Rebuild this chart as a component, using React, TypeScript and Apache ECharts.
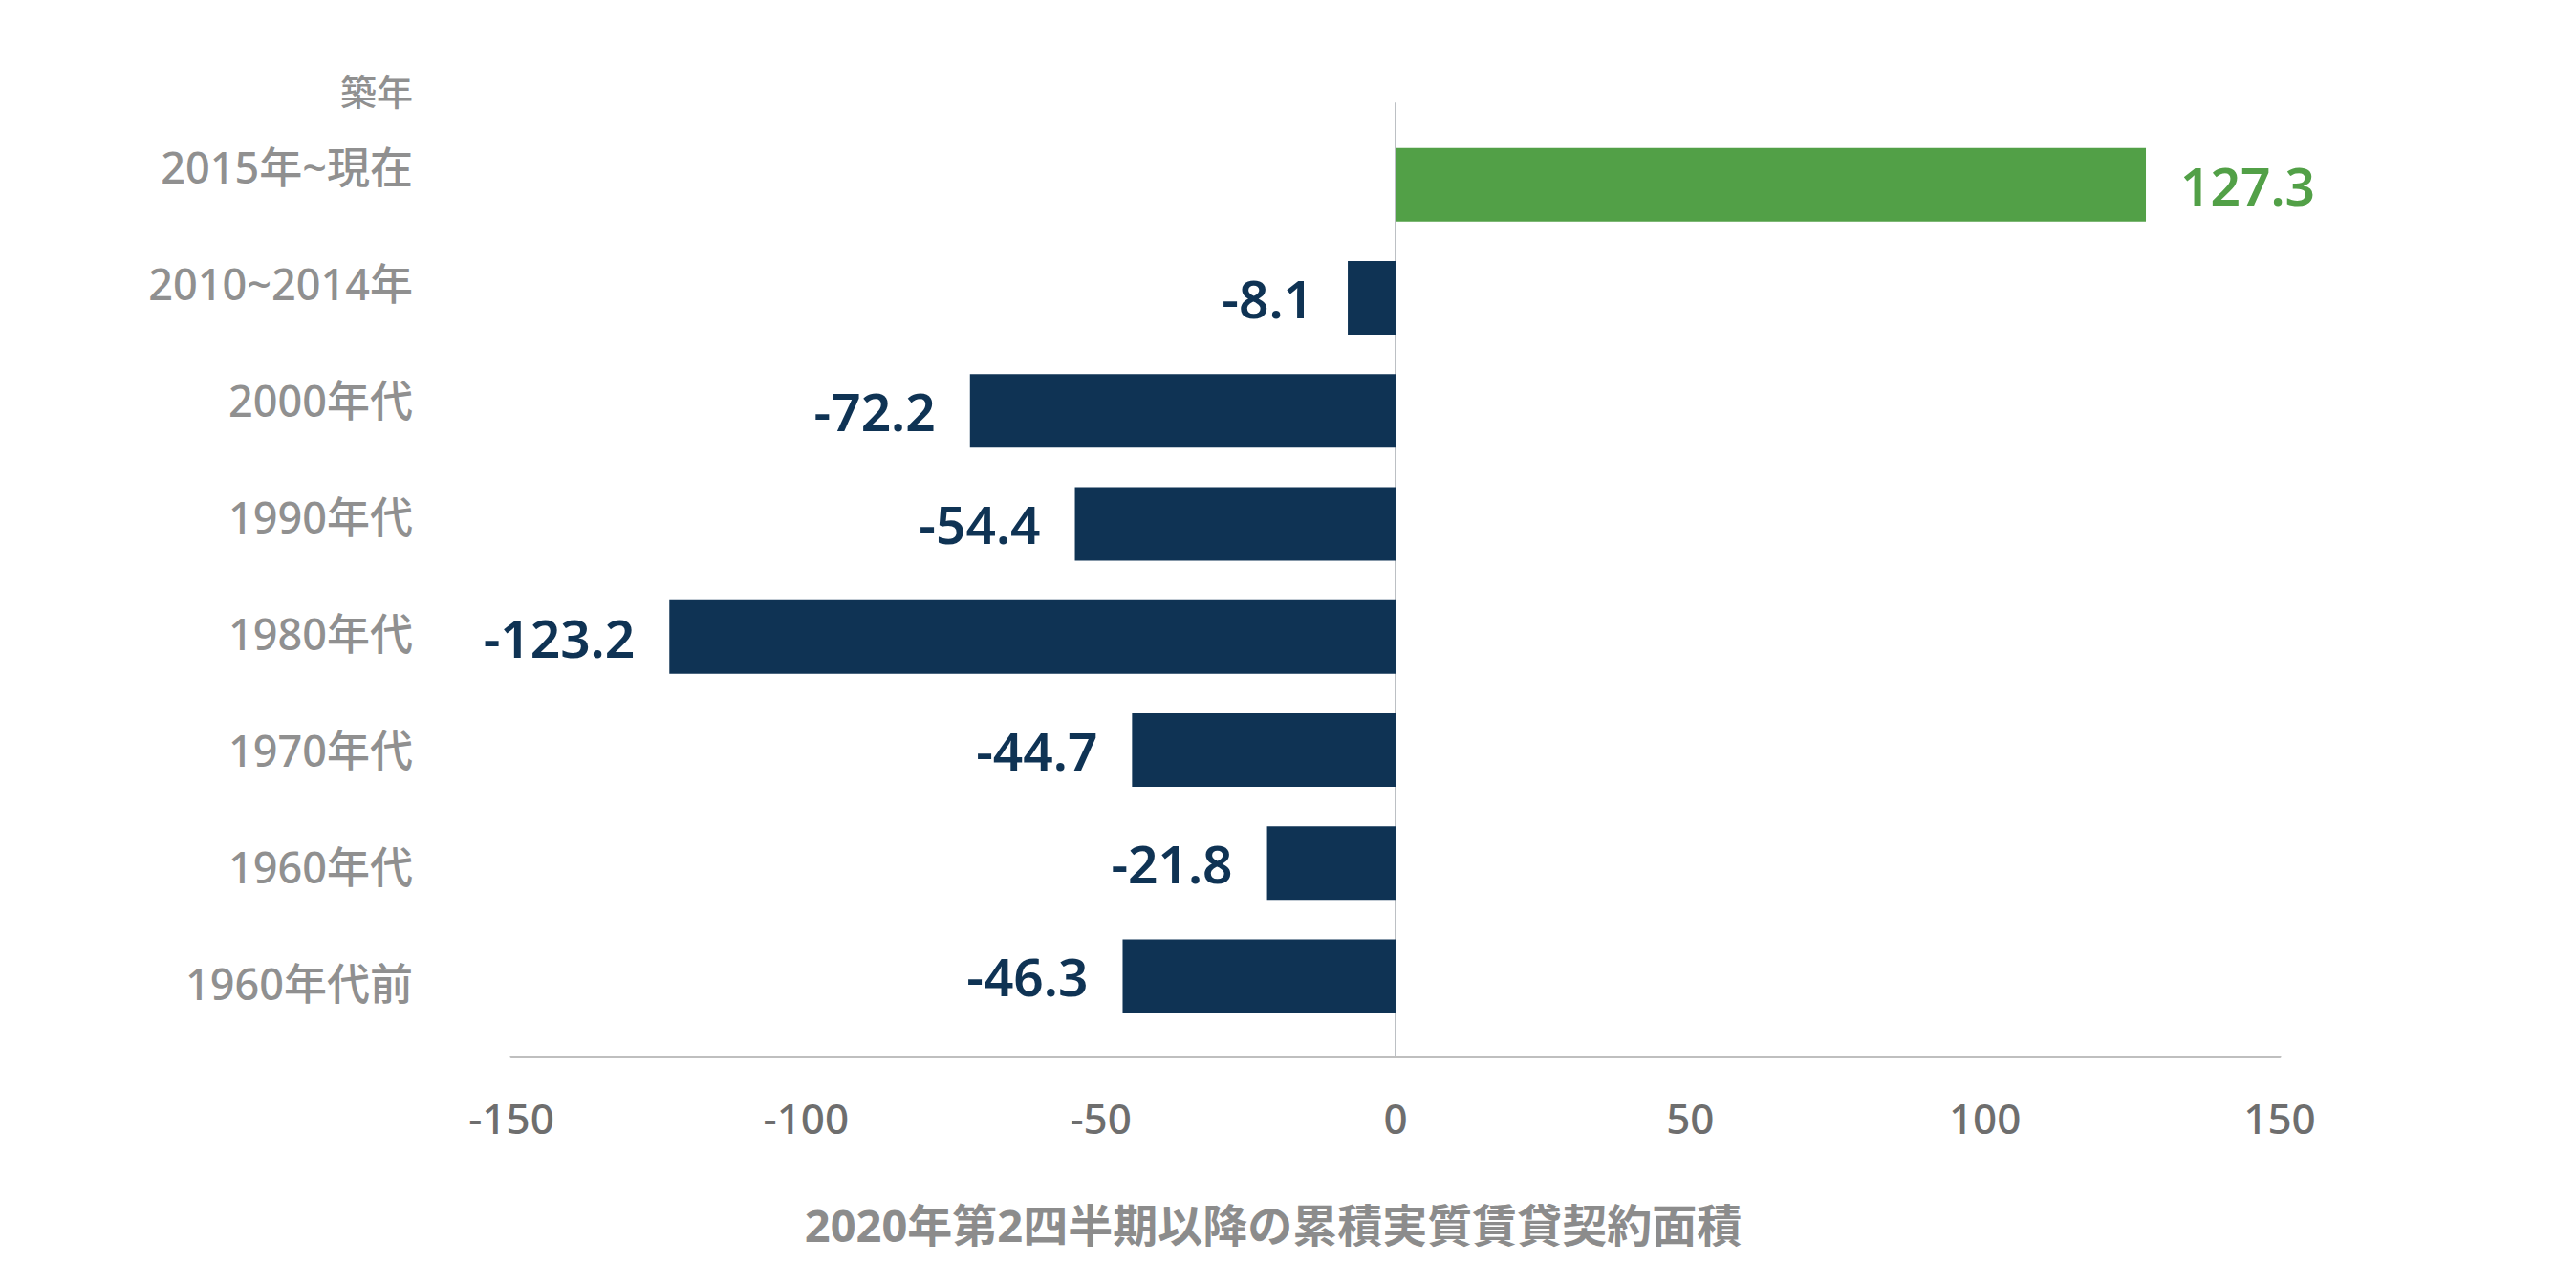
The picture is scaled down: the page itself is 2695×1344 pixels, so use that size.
import React, { useEffect, useRef } from "react";
import * as echarts from "echarts";

const categories = [
  "2015年~現在",
  "2010~2014年",
  "2000年代",
  "1990年代",
  "1980年代",
  "1970年代",
  "1960年代",
  "1960年代前",
];
const values = [127.3, -8.1, -72.2, -54.4, -123.2, -44.7, -21.8, -46.3];
const xMin = -150;
const xMax = 150;
const xInterval = 50;
const yAxisTitle = "築年";
const xAxisTitle = "2020年第2四半期以降の累積実質賃貸契約面積";

const POS = "#52a047";
const NEG = "#0f3354";
const FONT = "'Noto Sans', 'Noto Sans CJK JP', sans-serif";

export default function App() {
  const ref = useRef<HTMLDivElement>(null);
  useEffect(() => {
    if (!ref.current) return;
    const chart = echarts.init(ref.current, null, { renderer: "svg" });
    const data = values.map((v) => ({
      value: v,
      itemStyle: { color: v >= 0 ? POS : NEG },
      label: {
        position: v >= 0 ? "right" : "left",
        color: v >= 0 ? POS : NEG,
      },
    }));
    chart.setOption({
      animation: false,
      backgroundColor: "#ffffff",
      textStyle: { fontFamily: FONT },
      grid: [
        { left: 535, right: 310, top: 134, bottom: 264 },
        { left: 535, right: 310, top: 108, bottom: 239 },
        { left: 535, right: 310, top: 114, bottom: 255 },
      ],
      xAxis: [
        { gridIndex: 0, type: "value", min: xMin, max: xMax, interval: xInterval, show: false },
        {
          gridIndex: 1,
          type: "value",
          min: xMin,
          max: xMax,
          interval: xInterval,
          axisLine: { show: true, onZero: false, lineStyle: { color: "#bfbfbf", width: 3 } },
          axisTick: { show: false },
          splitLine: { show: false },
          axisLabel: { fontSize: 44, color: "#6e6e6e", margin: 42, fontFamily: FONT, fontWeight: 500 },
        },
        { gridIndex: 2, type: "value", min: xMin, max: xMax, show: false },
      ],
      yAxis: [
        {
          gridIndex: 0,
          type: "category",
          data: categories,
          inverse: true,
          show: false,
        },
        {
          gridIndex: 1,
          type: "value",
          min: 0,
          max: 1,
          axisLine: { show: true, onZero: true, lineStyle: { color: "#bcc0c4", width: 2 } },
          axisTick: { show: false },
          axisLabel: { show: false },
          splitLine: { show: false },
        },
        {
          gridIndex: 2,
          type: "category",
          data: categories,
          inverse: true,
          axisLine: { show: false },
          axisTick: { show: false },
          splitLine: { show: false },
          axisLabel: { fontSize: 45, color: "#909090", margin: 103, fontFamily: FONT, fontWeight: 500 },
        },
      ],
      series: [
        {
          type: "bar",
          xAxisIndex: 0,
          yAxisIndex: 0,
          data,
          barWidth: 77,
          label: {
            show: true,
            fontSize: 55,
            fontWeight: 600,
            distance: 36,
            fontFamily: FONT,
            formatter: (p: any) => Number(p.value).toFixed(1),
          },
        },
      ],
      graphic: [
        {
          type: "text",
          x: 432,
          y: 95,
          style: {
            text: yAxisTitle,
            align: "right",
            verticalAlign: "middle",
            fill: "#909090",
            fontSize: 38,
            fontWeight: 500,
            fontFamily: FONT,
          },
        },
        {
          type: "text",
          x: 1332,
          y: 1281,
          style: {
            text: xAxisTitle,
            align: "center",
            verticalAlign: "middle",
            fill: "#8c8c8c",
            fontSize: 47,
            fontWeight: "bold",
            fontFamily: FONT,
          },
        },
      ],
    });
    return () => chart.dispose();
  }, []);
  return (
    <div
      ref={ref}
      style={{ position: "fixed", left: 0, top: 0, width: 2695, height: 1344 }}
    />
  );
}
